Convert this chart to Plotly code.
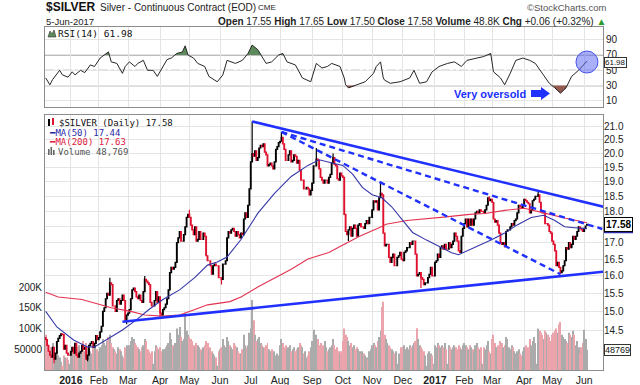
import numpy as np
import pandas as pd
import plotly.graph_objects as go

START, END = "2015-12-09", "2017-06-05"

# ---------------- daily closes (one per weekday) ----------------
close_by_month = {
    "2015-12": [14.25, 14.10, 13.95, 13.85, 13.80, 14.05, 13.75, 13.90, 14.20, 14.28, 14.35, 14.40, 14.38, 14.00, 14.10, 13.90, 13.85],
    "2016-01": [13.85, 13.95, 14.05, 13.90, 14.15, 13.85, 13.80, 13.90, 13.95, 14.10, 14.00, 14.05, 13.75, 13.85, 14.10, 14.15, 14.20, 14.05, 14.15, 14.35, 14.25],
    "2016-02": [14.30, 14.45, 14.60, 15.00, 15.10, 15.35, 15.50, 15.45, 15.80, 15.75, 15.15, 15.15, 15.00, 15.30, 15.35, 15.20, 15.30, 15.45, 15.30, 14.75, 14.90],
    "2016-03": [14.95, 15.05, 15.35, 15.60, 15.65, 15.55, 15.40, 15.35, 15.45, 15.30, 15.25, 15.55, 15.90, 15.85, 15.80, 15.75, 15.25, 15.15, 15.15, 15.30, 15.55, 15.25, 15.40],
    "2016-04": [14.95, 14.90, 15.05, 15.10, 15.20, 15.35, 15.60, 16.10, 16.25, 16.20, 16.25, 16.40, 17.00, 17.15, 17.35, 17.05, 17.05, 17.25, 17.50, 17.80, 17.90],
    "2016-05": [17.80, 17.55, 17.40, 17.25, 17.50, 17.05, 17.10, 17.35, 17.10, 17.10, 17.30, 17.20, 16.60, 16.45, 16.45, 16.30, 16.05, 16.30, 16.35, 16.30, 16.30, 15.95],
    "2016-06": [15.95, 15.90, 16.35, 16.35, 16.45, 17.15, 17.35, 17.30, 17.40, 17.45, 17.35, 17.20, 17.35, 17.25, 17.15, 17.30, 17.25, 17.75, 17.95, 17.80, 18.20, 18.75],
    "2016-07": [19.70, 20.00, 19.90, 20.10, 19.75, 19.85, 20.20, 20.30, 20.25, 20.35, 20.05, 19.95, 19.55, 19.60, 19.65, 19.55, 19.45, 19.70, 20.15, 20.25, 20.40],
    "2016-08": [20.45, 20.60, 20.35, 20.15, 19.75, 19.75, 19.95, 20.10, 19.70, 19.75, 19.95, 19.90, 19.65, 19.75, 19.40, 19.05, 19.05, 18.75, 18.75, 18.80, 18.75, 18.55, 18.70],
    "2016-09": [18.95, 19.55, 19.55, 19.80, 19.75, 19.45, 19.15, 19.05, 18.95, 19.05, 19.05, 18.95, 19.15, 19.25, 19.65, 19.85, 19.60, 19.55, 19.10, 19.05, 19.30, 19.20],
    "2016-10": [19.15, 17.90, 17.35, 17.25, 17.40, 17.50, 17.20, 17.45, 17.55, 17.45, 17.20, 17.55, 17.60, 17.50, 17.50, 17.45, 17.60, 17.70, 17.60, 17.80, 17.80],
    "2016-11": [18.05, 18.35, 18.30, 18.35, 18.05, 18.45, 18.60, 18.55, 17.30, 16.90, 16.95, 16.95, 16.55, 16.40, 16.55, 16.65, 16.30, 16.30, 16.55, 16.60, 16.70, 16.50],
    "2016-12": [16.45, 16.70, 16.75, 16.85, 16.85, 17.00, 16.95, 17.05, 17.05, 16.65, 16.00, 16.05, 16.10, 15.95, 15.90, 15.75, 15.80, 15.80, 15.95, 16.05, 16.25, 16.00],
    "2017-01": [16.00, 16.40, 16.45, 16.65, 16.55, 16.85, 16.90, 16.80, 16.95, 16.80, 16.80, 17.00, 16.85, 16.95, 17.05, 17.30, 17.20, 17.05, 16.75, 16.70, 17.20, 17.45],
    "2017-02": [17.60, 17.75, 17.50, 17.75, 17.55, 17.75, 17.55, 17.75, 17.95, 18.00, 17.95, 18.05, 18.00, 18.00, 17.95, 18.05, 18.20, 18.45, 18.35, 18.40],
    "2017-03": [18.30, 17.75, 17.65, 17.70, 17.55, 17.30, 17.00, 16.95, 17.00, 16.90, 17.35, 17.40, 17.40, 17.50, 17.60, 17.55, 17.70, 17.75, 17.95, 18.20, 18.15, 18.10, 18.20],
    "2017-04": [18.40, 18.35, 18.30, 18.25, 17.95, 18.05, 18.35, 18.40, 18.50, 18.50, 18.55, 18.30, 18.00, 17.95, 17.95, 17.60, 17.60, 17.55, 17.35, 17.30],
    "2017-05": [17.05, 16.95, 16.75, 16.30, 16.40, 16.25, 16.10, 16.15, 16.30, 16.45, 16.85, 16.80, 17.00, 16.85, 16.95, 17.20, 17.10, 17.20, 17.35, 17.50, 17.45, 17.40, 17.35],
    "2017-06": [17.45, 17.52, 17.58],
}
first_open = 14.30
last_open = 17.55

# ---------------- daily volume (thousands) ----------------
volume_k_by_month = {
    "2015-12": [85, 70, 60, 45, 55, 65, 50, 40, 45, 35, 30, 20, 10, 35, 30, 30, 25],
    "2016-01": [15, 45, 55, 50, 60, 45, 55, 60, 45, 50, 70, 45, 65, 55, 50, 45, 40, 55, 60, 45, 50],
    "2016-02": [45, 55, 60, 75, 65, 60, 70, 80, 85, 65, 55, 50, 45, 40, 55, 50, 45, 35, 30, 55, 60],
    "2016-03": [55, 60, 70, 80, 75, 65, 60, 55, 50, 45, 55, 60, 75, 70, 50, 45, 40, 45, 15, 45, 60, 55, 50],
    "2016-04": [55, 45, 50, 50, 55, 60, 65, 90, 75, 60, 55, 65, 100, 85, 104, 80, 70, 75, 138, 95, 85],
    "2016-05": [80, 75, 70, 60, 55, 65, 60, 55, 50, 45, 55, 60, 70, 65, 50, 55, 45, 40, 35, 30, 10, 45],
    "2016-06": [50, 55, 75, 60, 55, 80, 70, 60, 55, 50, 65, 60, 55, 45, 40, 40, 50, 85, 60, 55, 60, 90],
    "2016-07": [100, 169, 120, 85, 70, 75, 80, 65, 60, 55, 55, 60, 65, 50, 45, 50, 40, 45, 35, 40, 35],
    "2016-08": [60, 75, 65, 55, 60, 50, 55, 60, 45, 50, 55, 45, 50, 55, 65, 60, 55, 40, 45, 30, 35, 45, 55],
    "2016-09": [70, 97, 40, 85, 75, 60, 65, 55, 60, 70, 55, 45, 50, 55, 60, 75, 60, 50, 55, 45, 40, 45],
    "2016-10": [70, 100, 85, 80, 70, 60, 65, 55, 60, 50, 55, 50, 45, 40, 45, 40, 35, 30, 25, 45, 50],
    "2016-11": [60, 65, 60, 55, 70, 80, 95, 152, 165, 85, 75, 65, 60, 55, 50, 45, 40, 45, 15, 40, 30, 55],
    "2016-12": [55, 60, 50, 55, 50, 60, 55, 60, 65, 70, 101, 75, 60, 55, 50, 45, 35, 10, 40, 45, 40, 35],
    "2017-01": [15, 60, 55, 65, 60, 55, 60, 55, 65, 50, 15, 60, 55, 50, 55, 60, 55, 50, 60, 55, 50, 60],
    "2017-02": [65, 60, 55, 50, 60, 55, 50, 45, 60, 65, 55, 50, 55, 15, 55, 50, 60, 70, 45, 40],
    "2017-03": [75, 85, 65, 55, 60, 50, 70, 65, 55, 60, 80, 75, 55, 50, 60, 55, 45, 40, 45, 50, 40, 35, 45],
    "2017-04": [55, 60, 50, 55, 75, 60, 70, 80, 65, 15, 100, 95, 90, 85, 75, 95, 90, 85, 80, 70],
    "2017-05": [85, 90, 95, 100, 90, 110, 116, 85, 80, 75, 70, 65, 90, 85, 80, 95, 85, 60, 70, 55, 40, 55, 65],
    "2017-06": [97, 75, 48.769],
}

# notable wick extremes
high_marks = {"2016-02-11": 15.95, "2016-03-17": 16.00, "2016-05-02": 18.05, "2016-07-04": 21.20,
              "2016-08-02": 20.80, "2016-09-06": 20.20, "2016-09-22": 20.00, "2016-11-09": 19.00,
              "2017-02-27": 18.50, "2017-04-17": 18.65}
low_marks = {"2015-12-17": 13.65, "2016-01-20": 13.70, "2016-02-29": 14.65, "2016-04-01": 14.85,
             "2016-06-02": 15.75, "2016-10-07": 17.05, "2016-12-20": 15.65, "2017-03-14": 16.85,
             "2017-05-09": 16.05}

# moving averages
ma50_dates = ["2015-12-09", "2015-12-21", "2016-01-06", "2016-01-20", "2016-01-27", "2016-02-04", "2016-02-12",
              "2016-02-24", "2016-03-09", "2016-03-22", "2016-04-05", "2016-04-21", "2016-05-06", "2016-05-19",
              "2016-05-30", "2016-06-08", "2016-06-22", "2016-07-08", "2016-07-26", "2016-08-11", "2016-08-29",
              "2016-09-08", "2016-09-22", "2016-10-03", "2016-10-12", "2016-10-21", "2016-11-01", "2016-11-10",
              "2016-11-21", "2016-12-01", "2016-12-12", "2016-12-26", "2017-01-06", "2017-01-19", "2017-01-26",
              "2017-02-07", "2017-02-15", "2017-03-01", "2017-03-14", "2017-03-27", "2017-04-10", "2017-04-21",
              "2017-05-03", "2017-05-12", "2017-05-23", "2017-06-05"]
ma50_vals = [15.00, 14.58, 14.24, 14.06, 14.06, 14.19, 14.32, 14.50, 14.77, 15.05, 15.33, 15.60, 15.96, 16.32,
             16.41, 16.56, 17.10, 17.93, 18.60, 19.18, 19.57, 19.77, 19.65, 19.57, 19.26, 18.80, 18.55, 18.45,
             18.15, 17.70, 17.32, 17.08, 16.88, 16.69, 16.63, 16.78, 16.90, 17.10, 17.30, 17.56, 17.80, 17.87,
             17.70, 17.50, 17.47, 17.44]
ma200_dates = ["2015-12-09", "2015-12-22", "2016-01-14", "2016-01-29", "2016-02-12", "2016-03-03", "2016-03-17",
               "2016-04-05", "2016-04-21", "2016-05-05", "2016-05-19", "2016-06-10", "2016-06-22", "2016-07-08",
               "2016-07-26", "2016-08-11", "2016-08-29", "2016-09-19", "2016-09-29", "2016-10-19", "2016-11-08",
               "2016-11-15", "2016-12-06", "2016-12-26", "2017-01-13", "2017-02-07", "2017-02-22", "2017-03-14",
               "2017-04-03", "2017-04-21", "2017-05-12", "2017-06-05"]
ma200_vals = [15.53, 15.40, 15.33, 15.20, 15.10, 15.00, 14.90, 14.87, 14.90, 15.04, 15.18, 15.27, 15.40, 15.68,
              15.94, 16.20, 16.50, 16.70, 16.88, 17.20, 17.47, 17.58, 17.70, 17.75, 17.82, 17.90, 17.93, 18.03,
              18.10, 17.95, 17.78, 17.63]

# RSI(14)
rsi_dates = ["2015-12-09", "2015-12-14", "2015-12-16", "2015-12-21", "2015-12-23", "2015-12-25", "2015-12-31",
             "2016-01-05", "2016-01-07", "2016-01-13", "2016-01-18", "2016-01-22", "2016-01-27", "2016-02-02",
             "2016-02-05", "2016-02-10", "2016-02-12", "2016-02-18", "2016-02-24", "2016-02-26", "2016-03-02",
             "2016-03-08", "2016-03-10", "2016-03-16", "2016-03-21", "2016-03-25", "2016-03-30", "2016-04-05",
             "2016-04-08", "2016-04-13", "2016-04-19", "2016-04-25", "2016-04-27", "2016-04-29", "2016-05-05",
             "2016-05-10", "2016-05-17", "2016-05-20", "2016-05-30", "2016-06-03", "2016-06-08", "2016-06-16",
             "2016-06-23", "2016-06-29", "2016-07-04", "2016-07-08", "2016-07-18", "2016-07-22", "2016-07-29",
             "2016-08-03", "2016-08-08", "2016-08-16", "2016-08-23", "2016-08-31", "2016-09-06", "2016-09-12",
             "2016-09-16", "2016-09-21", "2016-09-29", "2016-10-04", "2016-10-05", "2016-10-07", "2016-10-17",
             "2016-10-25", "2016-11-02", "2016-11-04", "2016-11-09", "2016-11-11", "2016-11-14", "2016-11-18",
             "2016-11-29", "2016-12-08", "2016-12-13", "2016-12-19", "2016-12-26", "2016-12-30", "2017-01-06",
             "2017-01-16", "2017-01-23", "2017-01-30", "2017-02-03", "2017-02-13", "2017-02-21", "2017-02-28",
             "2017-03-02", "2017-03-09", "2017-03-14", "2017-03-20", "2017-03-24", "2017-03-31", "2017-04-07",
             "2017-04-13", "2017-04-19", "2017-04-27", "2017-05-03", "2017-05-09", "2017-05-15", "2017-05-19",
             "2017-05-26", "2017-06-02", "2017-06-05"]
rsi_vals = [40, 31, 38, 46, 50, 44, 41, 48, 44, 50, 47, 57, 55, 66, 70, 74, 61, 59, 46, 55, 61, 55, 59, 63, 50,
            50, 42, 55, 64, 66, 72, 74, 82, 70, 66, 59, 55, 42, 35, 44, 63, 59, 63, 72, 83, 77, 59, 61, 70, 72,
            61, 57, 40, 35, 59, 53, 55, 59, 55, 40, 31, 27, 31, 35, 46, 55, 61, 40, 37, 33, 35, 40, 50, 33, 35,
            48, 55, 59, 61, 55, 63, 66, 68, 72, 48, 40, 31, 46, 63, 66, 63, 59, 48, 33, 27, 20, 27, 42, 50, 59,
            61.98]

# trend lines (date, price)
upper_line = (["2016-07-04", "2017-06-22"], [21.20, 18.14])
lower_line = (["2016-02-24", "2017-06-22"], [14.72, 16.13])
dash_line_a = (["2016-08-02", "2017-06-20"], [20.80, 17.43])
dash_line_b = (["2016-08-02", "2017-05-09"], [20.80, 16.05])
circle_points = [("2017-02-07", 17.56), ("2017-04-12", 18.21), ("2017-06-05", 17.56)]
rsi_circle = ("2017-06-05", 60.8)

month_tick_dates = ["2016-01-04", "2016-02-01", "2016-03-01", "2016-04-01", "2016-05-02", "2016-06-01",
                    "2016-07-01", "2016-08-01", "2016-09-01", "2016-10-03", "2016-11-01", "2016-12-01",
                    "2017-01-03", "2017-02-01", "2017-03-01", "2017-04-03", "2017-05-01", "2017-06-01"]
month_tick_labels = ["<b>2016</b>", "Feb", "Mar", "Apr", "May", "Jun", "Jul", "Aug", "Sep", "Oct", "Nov", "Dec",
                     "<b>2017</b>", "Feb", "Mar", "Apr", "May", "Jun"]
price_ticks = [14.5, 15.0, 15.5, 16.0, 16.5, 17.0, 17.5, 18.0, 18.5, 19.0, 19.5, 20.0, 20.5, 21.0]
price_hidden_label = 17.5   # covered by the last-price tag
rsi_ticks = [10, 30, 50, 70, 90]
vol_ticks = [50000, 100000, 150000, 200000]
vol_tick_text = ["50000", "100K", "150K", "200K"]

# ---------------- build series ----------------
calendar = pd.bdate_range(START, "2017-06-30")
pos = {d.strftime("%Y-%m-%d"): i for i, d in enumerate(calendar)}
days = pd.bdate_range(START, END)
months = [d.strftime("%Y-%m") for d in days]


def flatten(by_month):
    out = []
    for m, vals in by_month.items():
        n = months.count(m)
        if n != len(vals):
            raise ValueError(f"{m}: expected {n} values, got {len(vals)}")
        out += vals
    return out


closes = flatten(close_by_month)
volumes = [v * 1000 for v in flatten(volume_k_by_month)]
xi = list(range(len(days)))
opens = [first_open] + closes[:-1]
opens[-1] = last_open
highs = [max(o, c) for o, c in zip(opens, closes)]
lows = [min(o, c) for o, c in zip(opens, closes)]
for d, v in high_marks.items():
    highs[pos[d]] = v
for d, v in low_marks.items():
    lows[pos[d]] = v
prev = [first_open] + closes[:-1]
vol_colors = ["#eba4ac" if c < p else "#ababab" for c, p in zip(closes, prev)]

W, H = 640, 385
ML, MR, MT, MB = 45, 37, 27, 15
PW, PH = W - ML - MR, H - MT - MB


def pxx(x):
    return (x - ML) / PW


def pxy(y):
    return (H - MB - y) / PH


BLUE = "#2030ff"
RED = "#e0102f"

fig = go.Figure()

fig.add_trace(go.Bar(x=xi, y=volumes, marker=dict(color=vol_colors, line=dict(width=0)), width=0.72,
                     xaxis="x", yaxis="y", hoverinfo="skip"))
fig.add_trace(go.Scatter(x=[pos[d] for d in ma200_dates], y=ma200_vals, mode="lines",
                         line=dict(color="#e3324f", width=1.1), xaxis="x", yaxis="y3", hoverinfo="skip"))
fig.add_trace(go.Scatter(x=[pos[d] for d in ma50_dates], y=ma50_vals, mode="lines",
                         line=dict(color="#3535a8", width=1.1), xaxis="x", yaxis="y3", hoverinfo="skip"))
fig.add_trace(go.Candlestick(x=xi, open=opens, high=highs, low=lows, close=closes,
                             increasing=dict(line=dict(color="#000000", width=1.2), fillcolor="#000000"),
                             decreasing=dict(line=dict(color=RED, width=1.2), fillcolor=RED),
                             whiskerwidth=0, xaxis="x", yaxis="y3", hoverinfo="skip"))

for dts, vals in (dash_line_a, dash_line_b):
    fig.add_trace(go.Scatter(x=[pos[d] for d in dts], y=vals, mode="lines",
                             line=dict(color=BLUE, width=2.4, dash="6px,4px"), xaxis="x", yaxis="y3",
                             hoverinfo="skip"))
for dts, vals in (upper_line, lower_line):
    fig.add_trace(go.Scatter(x=[pos[d] for d in dts], y=vals, mode="lines+markers",
                             line=dict(color=BLUE, width=2.6),
                             marker=dict(symbol="triangle-up", size=[0, 15], color=BLUE, angleref="previous"),
                             cliponaxis=False, xaxis="x", yaxis="y3", hoverinfo="skip"))

# RSI panel
rx = [pos[d] for d in rsi_dates]


def band(xs, ys, level, above):
    bx, by = [], []
    for k in range(len(xs)):
        if k > 0:
            y0, y1 = ys[k - 1], ys[k]
            if (y0 - level) * (y1 - level) < 0:
                t = (level - y0) / (y1 - y0)
                bx.append(xs[k - 1] + t * (xs[k] - xs[k - 1]))
                by.append(level)
        bx.append(xs[k])
        by.append(max(ys[k], level) if above else min(ys[k], level))
    return bx, by


for level, above, col in ((70, True, "#5d8a5a"), (30, False, "#94594f")):
    bx, by = band(rx, rsi_vals, level, above)
    fig.add_trace(go.Scatter(x=bx, y=[level] * len(bx), mode="lines", line=dict(width=0),
                             xaxis="x2", yaxis="y2", hoverinfo="skip"))
    fig.add_trace(go.Scatter(x=bx, y=by, mode="lines", line=dict(width=0), fill="tonexty", fillcolor=col,
                             xaxis="x2", yaxis="y2", hoverinfo="skip"))
fig.add_trace(go.Scatter(x=rx, y=rsi_vals, mode="lines", line=dict(color="#262626", width=1),
                         xaxis="x2", yaxis="y2", hoverinfo="skip"))

tickx = [pos[d] for d in month_tick_dates]
grid = "#e4e4e4"
frame = "#8c8c8c"
xr = [-0.5, 399.5]
main_dom = [0, (H - MB - 115) / PH]
rsi_dom = [(H - MB - 106.7) / PH, 1]
lo_p = 14.5 * np.exp(-40 / 548.9)
hi_p = 14.5 * np.exp(215 / 548.9)

fig.update_layout(
    width=W, height=H, margin=dict(l=ML, r=MR, t=MT, b=MB, autoexpand=False), autosize=False,
    paper_bgcolor="white", plot_bgcolor="white", showlegend=False,
    font=dict(family="Liberation Sans, Arial, sans-serif", size=10, color="#222"),
    xaxis=dict(domain=[0, 1], anchor="y", range=xr, tickvals=tickx, ticktext=month_tick_labels,
               showgrid=True, gridcolor=grid, gridwidth=1, zeroline=False, showline=True, mirror=True,
               linecolor=frame, ticks="", ticklen=0, tickfont=dict(size=10.5, color="#222"), automargin=False,
               rangeslider=dict(visible=False)),
    xaxis2=dict(domain=[0, 1], anchor="y2", range=xr, matches="x", tickvals=tickx, showticklabels=False,
                showgrid=True, gridcolor=grid, zeroline=False, showline=True, mirror=True, linecolor=frame,
                ticks="", automargin=False),
    yaxis=dict(domain=main_dom, anchor="x", range=[0, 616000], side="left", tickvals=vol_ticks,
               ticktext=vol_tick_text, showgrid=False, zeroline=False, showline=True, mirror=True,
               linecolor=frame, ticks="", tickfont=dict(size=10, color="#222"), automargin=False),
    yaxis3=dict(overlaying="y", anchor="x", side="right", type="log",
                range=[np.log10(lo_p), np.log10(hi_p)], tickvals=price_ticks,
                ticktext=["" if v == price_hidden_label else f"{v:.1f}" for v in price_ticks],
                showgrid=True, gridcolor=grid, zeroline=False, automargin=False,
                showline=False, ticks="", tickfont=dict(size=10, color="#222")),
    yaxis2=dict(domain=rsi_dom, anchor="x2", range=[2.4, 106.6], side="right", tickvals=rsi_ticks,
                showgrid=True, gridcolor=grid, zeroline=False, showline=True, mirror=True, linecolor=frame,
                ticks="", tickfont=dict(size=10, color="#222"), automargin=False),
)

shapes = []
for lv, dash, col in ((70, "solid", "#7a7a7a"), (30, "solid", "#7a7a7a"), (50, "dashdot", "#8a8a8a")):
    shapes.append(dict(type="line", xref="x2", yref="y2", x0=xr[0], x1=xr[1], y0=lv, y1=lv,
                       line=dict(color=col, width=1.2, dash=dash), layer="below"))
for d, p in circle_points:
    shapes.append(dict(type="circle", xref="x", yref="y3", xsizemode="pixel", ysizemode="pixel",
                       xanchor=pos[d], yanchor=np.log10(p), x0=-11, x1=11, y0=-11, y1=11,
                       fillcolor="rgba(85,95,245,0.5)", line=dict(color="rgba(60,70,235,0.9)", width=1)))
shapes.append(dict(type="circle", xref="x2", yref="y2", xsizemode="pixel", ysizemode="pixel",
                   xanchor=pos[rsi_circle[0]], yanchor=rsi_circle[1], x0=-11, x1=11, y0=-11, y1=11,
                   fillcolor="rgba(85,95,245,0.5)", line=dict(color="rgba(60,70,235,0.9)", width=1)))
# block arrow pointing at oversold trough
shapes.append(dict(type="path", xref="paper", yref="paper",
                   path=(f"M{pxx(531)},{pxy(90)} L{pxx(541)},{pxy(90)} L{pxx(541)},{pxy(87)} "
                         f"L{pxx(550)},{pxy(93.5)} L{pxx(541)},{pxy(100)} L{pxx(541)},{pxy(97)} "
                         f"L{pxx(531)},{pxy(97)} Z"),
                   fillcolor=BLUE, line=dict(color=BLUE, width=0)))
# legend icons
shapes.append(dict(type="rect", xref="paper", yref="paper", x0=pxx(48), x1=pxx(50), y0=pxy(126), y1=pxy(119),
                   fillcolor="black", line=dict(width=0)))
shapes.append(dict(type="rect", xref="paper", yref="paper", x0=pxx(52), x1=pxx(54), y0=pxy(125), y1=pxy(118),
                   fillcolor=RED, line=dict(width=0)))
for x0, top in ((48, 149), (50.5, 147), (53, 150)):
    shapes.append(dict(type="rect", xref="paper", yref="paper", x0=pxx(x0), x1=pxx(x0 + 1.6), y0=pxy(155),
                       y1=pxy(top), fillcolor="#666", line=dict(width=0)))
shapes.append(dict(type="path", xref="paper", yref="paper",
                   path=f"M{pxx(48)},{pxy(37)} L{pxx(50)},{pxy(31)} L{pxx(52)},{pxy(34)} L{pxx(54)},{pxy(30)} L{pxx(56)},{pxy(37)} Z",
                   fillcolor="#5d8a5a", line=dict(color="#333", width=0.6)))

ann = []
mono = "DejaVu Sans Mono, monospace"
arial = "Liberation Sans, Arial, sans-serif"


def text(x, y, t, size=10, color="#222", family=arial, xanchor="left", **kw):
    ann.append(dict(xref="paper", yref="paper", x=pxx(x), y=pxy(y), text=t, showarrow=False,
                    xanchor=xanchor, yanchor="middle", font=dict(size=size, color=color, family=family), **kw))


text(44, 7, "<b>$SILVER</b>", size=12, color="#111")
text(98, 7.5, "Silver - Continuous Contract (EOD)", size=10)
text(256, 8, "CME", size=8)
text(608, 7, "©StockCharts.com", size=9.5, color="#555", xanchor="right")
text(44, 21, "5-Jun-2017", size=9.5)
text(608, 21, "<b>Open</b> 17.55 <b>High</b> 17.65 <b>Low</b> 17.50 <b>Close</b> 17.58 <b>Volume</b> 48.8K "
     "<b>Chg</b> +0.06 (+0.32%) <span style='color:#2a9a2a'>▲</span>", size=10, xanchor="right")
text(56, 33.5, "RSI(14) 61.98", size=9.5, family=mono, color="#111")
text(57, 122.7, "$SILVER (Daily) 17.58", size=9, family=mono, color="#111")
text(47, 132.5, "━MA(50) 17.44", size=9, family=mono, color="#2b2ba8")
text(47, 142.2, "━MA(200) 17.63", size=9, family=mono, color="#e0203c")
text(56, 151.7, "Volume 48,769", size=9, family=mono, color="#555")
text(528, 93.5, "<b>Very oversold</b>", size=11, color=BLUE, xanchor="right")

# right-side value tags (last price, last volume, last RSI)
ann.append(dict(xref="paper", yref="y3", x=pxx(604), y=np.log10(17.58), text="<b>17.58</b>", showarrow=False,
                xanchor="left", yanchor="middle", bgcolor="white", bordercolor="#000", borderwidth=1,
                borderpad=1, font=dict(size=10, color="#000")))
ann.append(dict(xref="paper", yref="y", x=pxx(604), y=48769, text="48769", showarrow=False, xanchor="left",
                yanchor="middle", bgcolor="white", bordercolor="#333", borderwidth=1, borderpad=0,
                font=dict(size=9, color="#111")))
ann.append(dict(xref="paper", yref="y2", x=pxx(604), y=60.5, text="61.98", showarrow=False, xanchor="left",
                yanchor="middle", bgcolor="white", bordercolor="#333", borderwidth=1, borderpad=0,
                font=dict(size=8, color="#111")))
# MA colour edges on the price tag
shapes.append(dict(type="line", xref="paper", yref="paper", x0=pxx(604), x1=pxx(633),
                   y0=pxy(218.5), y1=pxy(218.5), line=dict(color=RED, width=1.5)))
shapes.append(dict(type="line", xref="paper", yref="paper", x0=pxx(604), x1=pxx(633),
                   y0=pxy(232.5), y1=pxy(232.5), line=dict(color="#2b2ba8", width=1.5)))
fig.update_layout(shapes=shapes, annotations=ann)

fig.write_html("out.html", config={"displayModeBar": False},
               post_script="document.body.style.margin='0px';")
